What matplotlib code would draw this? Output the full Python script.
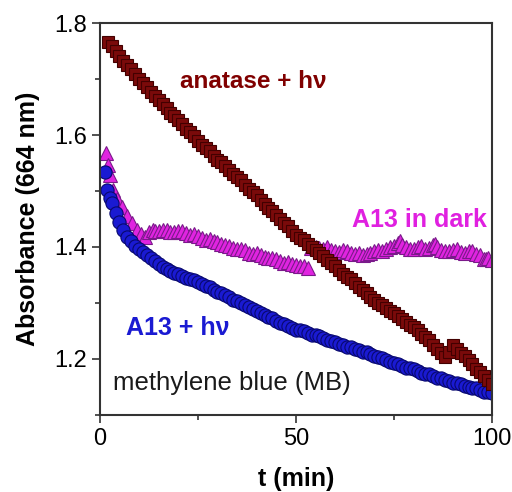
import matplotlib
matplotlib.use("Agg")
import matplotlib.pyplot as plt
from matplotlib.ticker import MultipleLocator

plt.rcParams['font.family'] = ['Liberation Sans', 'DejaVu Sans']

# =============================
# DATA
# =============================
t_anatase = list(range(2, 101))
a_anatase = [1.766, 1.759, 1.751, 1.741, 1.733, 1.726, 1.718, 1.709, 1.700, 1.693,
             1.686, 1.677, 1.669, 1.663, 1.656, 1.648, 1.640, 1.634, 1.627, 1.619,
             1.611, 1.605, 1.598, 1.590, 1.582, 1.577, 1.571, 1.563, 1.556, 1.551,
             1.545, 1.537, 1.530, 1.525, 1.519, 1.511, 1.504, 1.498, 1.492, 1.484,
             1.476, 1.470, 1.464, 1.457, 1.449, 1.443, 1.437, 1.429, 1.421, 1.416,
             1.412, 1.405, 1.399, 1.395, 1.390, 1.383, 1.376, 1.371, 1.366, 1.359,
             1.352, 1.347, 1.342, 1.335, 1.328, 1.323, 1.318, 1.311, 1.305, 1.300,
             1.296, 1.290, 1.285, 1.281, 1.277, 1.271, 1.265, 1.261, 1.257, 1.251,
             1.245, 1.239, 1.233, 1.225, 1.217, 1.210, 1.204, 1.213, 1.225, 1.218,
             1.211, 1.205, 1.198, 1.190, 1.182, 1.176, 1.170, 1.162, 1.155]

t_a13_light = [1.3, 1.8, 2.5, 3, 4, 5, 6, 7, 8, 9, 10, 11, 12, 13, 14, 15] + list(range(16, 101))
a_a13_light = [1.534, 1.502, 1.488, 1.478, 1.460, 1.445, 1.431, 1.418, 1.410, 1.402,
               1.396, 1.391, 1.386, 1.381, 1.374, 1.369,
               1.364, 1.361, 1.357, 1.354, 1.352, 1.348, 1.344, 1.343, 1.341, 1.337,
               1.333, 1.330, 1.328, 1.323, 1.319, 1.317, 1.314, 1.310, 1.306, 1.303,
               1.300, 1.296, 1.292, 1.289, 1.286, 1.282, 1.278, 1.275, 1.273, 1.268,
               1.264, 1.262, 1.259, 1.255, 1.252, 1.251, 1.249, 1.246, 1.243, 1.242,
               1.241, 1.237, 1.233, 1.232, 1.230, 1.227, 1.224, 1.222, 1.221, 1.218,
               1.215, 1.213, 1.212, 1.208, 1.205, 1.203, 1.202, 1.198, 1.195, 1.193,
               1.191, 1.188, 1.184, 1.183, 1.181, 1.178, 1.174, 1.173, 1.172, 1.169,
               1.166, 1.165, 1.163, 1.160, 1.157, 1.156, 1.155, 1.152, 1.149, 1.148,
               1.147, 1.144, 1.141, 1.140, 1.139]

t_a13_dark = ([1.5, 2, 2.5, 3.3, 4.5, 5.6, 7, 8.2, 9.5, 10.5, 11.5, 12.5, 13.5]
              + list(range(14, 54))
              + [53.8] + list(range(55, 77)) + [76.5] + list(range(77, 86)) + [85.5]
              + list(range(86, 99)) + [98.5, 99, 100])
a_a13_dark = [1.568, 1.546, 1.529, 1.502, 1.485, 1.471, 1.456, 1.443, 1.430, 1.423,
              1.418, 1.426, 1.431,
              1.429, 1.428, 1.431, 1.430, 1.427, 1.426, 1.429, 1.428, 1.424, 1.422,
              1.423, 1.420, 1.416, 1.413, 1.414, 1.411, 1.408, 1.405, 1.404, 1.401,
              1.398, 1.396, 1.397, 1.394, 1.390, 1.388, 1.389, 1.386, 1.382, 1.380,
              1.381, 1.378, 1.374, 1.372, 1.373, 1.370, 1.367, 1.365, 1.366, 1.363,
              1.398,
              1.400, 1.398, 1.396, 1.399, 1.394, 1.392, 1.391, 1.394, 1.393, 1.390,
              1.388, 1.390, 1.386, 1.387, 1.389, 1.392, 1.394, 1.393, 1.397, 1.399,
              1.402, 1.407,
              1.410,
              1.404, 1.399, 1.397, 1.396, 1.399, 1.401, 1.397, 1.398, 1.403,
              1.405,
              1.399, 1.395, 1.393, 1.392, 1.395, 1.396, 1.391, 1.389, 1.393, 1.392,
              1.388, 1.385, 1.379,
              1.378, 1.381, 1.376]

# =============================
# PLOT
# =============================
fig = plt.figure(figsize=(5.12, 4.92), dpi=100)
ax = fig.add_axes([0.195, 0.157, 0.766, 0.796])

ax.plot(t_a13_dark, a_a13_dark, '^', ms=9.5, mfc='#e024e0', mec='#7a1a8a', mew=0.8)
ax.plot(t_a13_light, a_a13_light, 'o', ms=9.5, mfc='#1a1ad2', mec='#08086e', mew=0.8)
ax.plot(t_anatase, a_anatase, 's', ms=9, mfc='#7a0a0a', mec='#420000', mew=0.8)

ax.set_xlim(0, 100)
ax.set_ylim(1.1, 1.8)
ax.xaxis.set_major_locator(MultipleLocator(50))
ax.xaxis.set_minor_locator(MultipleLocator(25))
ax.yaxis.set_major_locator(MultipleLocator(0.2))
ax.yaxis.set_minor_locator(MultipleLocator(0.1))
ax.tick_params(which='both', direction='out', top=False, right=False,
               labelsize=17, width=1.2, color='#333333')
ax.tick_params(which='major', length=6)
ax.tick_params(which='minor', length=3.5)
for sp in ax.spines.values():
    sp.set_linewidth(1.5)
    sp.set_color('#333333')

ax.set_xlabel('t (min)', fontsize=18, fontweight='bold', labelpad=12)
ax.set_ylabel('Absorbance (664 nm)', fontsize=18, fontweight='bold', labelpad=10)

ax.text(20.4, 1.695, 'anatase + hν', color='#800000', fontsize=17.5,
        fontweight='bold', va='center')
ax.text(64.3, 1.448, 'A13 in dark', color='#e020e0', fontsize=18,
        fontweight='bold', va='center')
ax.text(6.6, 1.255, 'A13 + hν', color='#1a1ad2', fontsize=18,
        fontweight='bold', va='center')
ax.text(3.3, 1.157, 'methylene blue (MB)', color='#1a1a1a', fontsize=18.5,
        va='center')

fig.savefig('out.png', dpi=100)
